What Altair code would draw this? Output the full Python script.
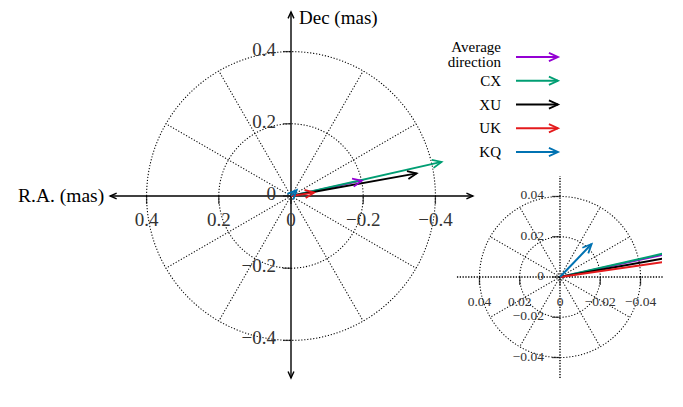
import altair as alt
import numpy as np
import pandas as pd

# ---------------- data ----------------
names = ["Average direction", "CX", "XU", "UK", "KQ"]
legend_labels = ["Average\ndirection", "CX", "XU", "UK", "KQ"]
ra = [-0.196, -0.417, -0.348, -0.064, -0.0157]      # mas
dec = [0.0423, 0.0945, 0.0625, 0.0093, 0.0164]      # mas
colors = ["#9400d3", "#009e73", "#000000", "#e41a1c", "#0072b2"]
draw_z = [0, 1, 2, 3, 4]

main_ticks = [0.4, 0.2, 0.0, -0.2, -0.4]
main_tick_labels = ["0.4", "0.2", "0", "\u22120.2", "\u22120.4"]
main_rings = [0.2, 0.4]
inset_ticks = [0.04, 0.02, 0.0, -0.02, -0.04]
inset_tick_labels = ["0.04", "0.02", "0", "\u22120.02", "\u22120.04"]
inset_rings = [0.02, 0.04]
spoke_angles = [30, 60, 120, 150, 210, 240, 300, 330]

# ---------------- styling / layout ----------------
FONT = "Liberation Serif"
CHEV = "M-1,-0.45L0,0L-1,0.45"
MAIN_W, MAIN_H = 449, 391
RIGHT_W, LEG_H, INS_H = 205, 165, 202
K_MAIN, MO = 361.0, (283.0, 185.0)
K_INS, IO = 2013.0, (103.0, 101.0)
DOT = dict(strokeDash=[1.2, 1.8], strokeWidth=1.05, color="#000")


def lin(dom, rng):
    return alt.Scale(domain=dom, range=rng, nice=False, zero=False)


main_x = lin([-0.5, 0.5], [MO[0] + 0.5 * K_MAIN, MO[0] - 0.5 * K_MAIN])
main_y = lin([-0.5, 0.5], [MO[1] + 0.5 * K_MAIN, MO[1] - 0.5 * K_MAIN])
ins_x = lin([-0.05, 0.05], [IO[0] + 0.05 * K_INS, IO[0] - 0.05 * K_INS])
ins_y = lin([-0.05, 0.05], [IO[1] + 0.05 * K_INS, IO[1] - 0.05 * K_INS])
color_scale = alt.Scale(domain=names, range=colors)

# ---------------- tables built from the arrays ----------------
arrows = pd.DataFrame({"name": names, "ra": ra, "dec": dec, "z": draw_z})
arrows["x0"] = 0.0
arrows["y0"] = 0.0
arrows["angle"] = np.degrees(np.arctan2(-arrows["dec"], -arrows["ra"])) % 360
arrows = arrows.sort_values("z")


def ring_df(rings):
    t = np.linspace(0, 2 * np.pi, 241)
    rows = []
    for r in rings:
        for i, tt in enumerate(t):
            rows.append({"r": r, "i": i, "x": r * np.cos(tt), "y": r * np.sin(tt)})
    return pd.DataFrame(rows)


def spoke_df(rmax):
    a = np.radians(spoke_angles)
    return pd.DataFrame({"x0": 0.0, "y0": 0.0, "x1": rmax * np.cos(a), "y1": rmax * np.sin(a)})


def tick_df(vals, labels):
    return pd.DataFrame({"v": vals, "lab": labels, "zero": 0.0})


def X(f, s):
    return alt.X(f, type="quantitative", scale=s, axis=None)


def Y(f, s):
    return alt.Y(f, type="quantitative", scale=s, axis=None)


col = alt.Color("name:N", scale=color_scale, legend=None)

# ---------------- main panel ----------------
m_rings = alt.Chart(ring_df(main_rings)).mark_line(**DOT).encode(
    x=X("x", main_x), y=Y("y", main_y), detail="r:N", order="i:Q")

m_spokes = alt.Chart(spoke_df(0.4)).mark_rule(**DOT).encode(
    x=X("x0", main_x), y=Y("y0", main_y), x2="x1:Q", y2="y1:Q")

axis_lines = pd.DataFrame({
    "x0": [0.501, 0.0], "x1": [-0.504, 0.0],
    "y0": [0.0, -0.504], "y1": [0.0, 0.51],
})
m_axes = alt.Chart(axis_lines).mark_rule(strokeWidth=1.4, color="#000").encode(
    x=X("x0", main_x), y=Y("y0", main_y), x2="x1:Q", y2="y1:Q"
)
axis_heads = pd.DataFrame({
    "x": [0.501, -0.504, 0.0, 0.0], "y": [0.0, 0.0, 0.51, -0.504],
    "angle": [180, 0, 270, 90],
})
m_axis_heads = alt.Chart(axis_heads).mark_point(
    shape=CHEV, filled=False, size=170, strokeWidth=1.4, color="#000", opacity=1
).encode(x=X("x", main_x), y=Y("y", main_y), angle=alt.Angle("angle:Q", scale=None))

mt = tick_df(main_ticks, main_tick_labels)
m_xticks = alt.Chart(mt).mark_tick(orient="vertical", size=8, thickness=1.3, yOffset=4, color="#000").encode(
    x=X("v", main_x), y=Y("zero", main_y))
m_yticks = alt.Chart(mt).mark_tick(orient="horizontal", size=8, thickness=1.3, xOffset=-4, color="#000").encode(
    x=X("zero", main_x), y=Y("v", main_y))
m_xlab = alt.Chart(mt).mark_text(font=FONT, fontSize=19, dy=24, baseline="middle", align="center", color="#333").encode(
    x=X("v", main_x), y=Y("zero", main_y), text="lab:N")
m_ylab = alt.Chart(mt).mark_text(font=FONT, fontSize=19, dx=-15, dy=-2, baseline="middle", align="right", color="#333").encode(
    x=X("zero", main_x), y=Y("v", main_y), text="lab:N")

titles = pd.DataFrame({"x": [0.501, 0.0], "y": [0.0, 0.51], "t": ["R.A. (mas)", "Dec (mas)"]})
m_title_ra = alt.Chart(titles.iloc[[0]]).mark_text(font=FONT, fontSize=19.5, align="right", baseline="middle", dx=-6, color="#000").encode(
    x=X("x", main_x), y=Y("y", main_y), text="t:N")
m_title_dec = alt.Chart(titles.iloc[[1]]).mark_text(font=FONT, fontSize=19, align="left", baseline="top", dx=8, dy=-3, color="#000").encode(
    x=X("x", main_x), y=Y("y", main_y), text="t:N")

m_arrows = alt.Chart(arrows).mark_rule(strokeWidth=1.8).encode(
    x=X("x0", main_x), y=Y("y0", main_y), x2="ra:Q", y2="dec:Q", color=col)
m_heads = alt.Chart(arrows).mark_point(shape=CHEV, filled=False, size=330, strokeWidth=1.8, opacity=1).encode(
    x=X("ra", main_x), y=Y("dec", main_y), color=col, angle=alt.Angle("angle:Q", scale=None))

main = alt.layer(
    m_rings, m_spokes, m_axes, m_axis_heads, m_xticks, m_yticks, m_xlab, m_ylab,
    m_title_ra, m_title_dec, m_arrows, m_heads
).properties(width=MAIN_W, height=MAIN_H)

# ---------------- legend panel ----------------
leg = pd.DataFrame({"name": names, "label": legend_labels, "row": list(range(len(names)))})
leg["lines"] = leg["label"].str.count("\n") + 1
leg_y = lin([0, 4], [46, 141])
text_style = dict(font=FONT, fontSize=15, align="right", baseline="middle",
                  lineBreak="\n", lineHeight=15, color="#000")
l_text1 = alt.Chart(leg).transform_filter("datum.lines == 1").mark_text(**text_style).encode(
    x=alt.value(44), y=Y("row", leg_y), text="label:N")
l_text2 = alt.Chart(leg).transform_filter("datum.lines == 2").mark_text(dy=-10, **text_style).encode(
    x=alt.value(44), y=Y("row", leg_y), text="label:N")
l_rule = alt.Chart(leg).mark_rule(strokeWidth=1.8).encode(
    x=alt.value(59), x2=alt.value(101), y=Y("row", leg_y), color=col)
l_head = alt.Chart(leg).mark_point(shape=CHEV, filled=False, size=330, strokeWidth=1.8, opacity=1).encode(
    x=alt.value(101), y=Y("row", leg_y), color=col)
legend = alt.layer(l_text1, l_text2, l_rule, l_head).properties(width=RIGHT_W, height=LEG_H)

# ---------------- inset panel ----------------
i_rings = alt.Chart(ring_df(inset_rings)).mark_line(**DOT).encode(
    x=X("x", ins_x), y=Y("y", ins_y), detail="r:N", order="i:Q")
i_spokes = alt.Chart(spoke_df(0.04)).mark_rule(**DOT).encode(
    x=X("x0", ins_x), y=Y("y0", ins_y), x2="x1:Q", y2="y1:Q")
ins_axis = pd.DataFrame({"x0": [0.0512, 0.0], "x1": [-0.0512, 0.0], "y0": [0.0, -0.0502], "y1": [0.0, 0.0502]})
i_axes = alt.Chart(ins_axis).mark_rule(strokeDash=[1.3, 1.5], strokeWidth=1.4, color="#000").encode(
    x=X("x0", ins_x), y=Y("y0", ins_y), x2="x1:Q", y2="y1:Q")
it = tick_df(inset_ticks, inset_tick_labels)
i_xticks = alt.Chart(it).mark_tick(orient="vertical", size=8, thickness=1.3, yOffset=4, color="#000").encode(
    x=X("v", ins_x), y=Y("zero", ins_y))
i_yticks = alt.Chart(it).mark_tick(orient="horizontal", size=8, thickness=1.3, xOffset=-4, color="#000").encode(
    x=X("zero", ins_x), y=Y("v", ins_y))
i_xlab = alt.Chart(it).mark_text(font=FONT, fontSize=13.5, dy=25, baseline="middle", align="center", color="#333").encode(
    x=X("v", ins_x), y=Y("zero", ins_y), text="lab:N")
i_ylab = alt.Chart(it).mark_text(font=FONT, fontSize=13.5, dx=-16, dy=-1, baseline="middle", align="right", color="#333").encode(
    x=X("zero", ins_x), y=Y("v", ins_y), text="lab:N")
i_arrows = alt.Chart(arrows).mark_rule(strokeWidth=2, clip=True).encode(
    x=X("x0", ins_x), y=Y("y0", ins_y), x2="ra:Q", y2="dec:Q", color=col)
i_heads = alt.Chart(arrows).mark_point(shape=CHEV, filled=False, size=330, strokeWidth=1.8, opacity=1, clip=True).encode(
    x=X("ra", ins_x), y=Y("dec", ins_y), color=col, angle=alt.Angle("angle:Q", scale=None))
inset = alt.layer(
    i_rings, i_spokes, i_axes, i_xticks, i_yticks, i_xlab, i_ylab, i_arrows, i_heads
).properties(width=RIGHT_W, height=INS_H)

right = alt.vconcat(legend, inset, spacing=0, bounds="flush")
chart = alt.hconcat(main, right, spacing=0, bounds="flush").properties(
    padding=0, background="white"
).configure_view(stroke=None)

chart.save("out.html", embed_options={"renderer": "svg", "actions": False})
